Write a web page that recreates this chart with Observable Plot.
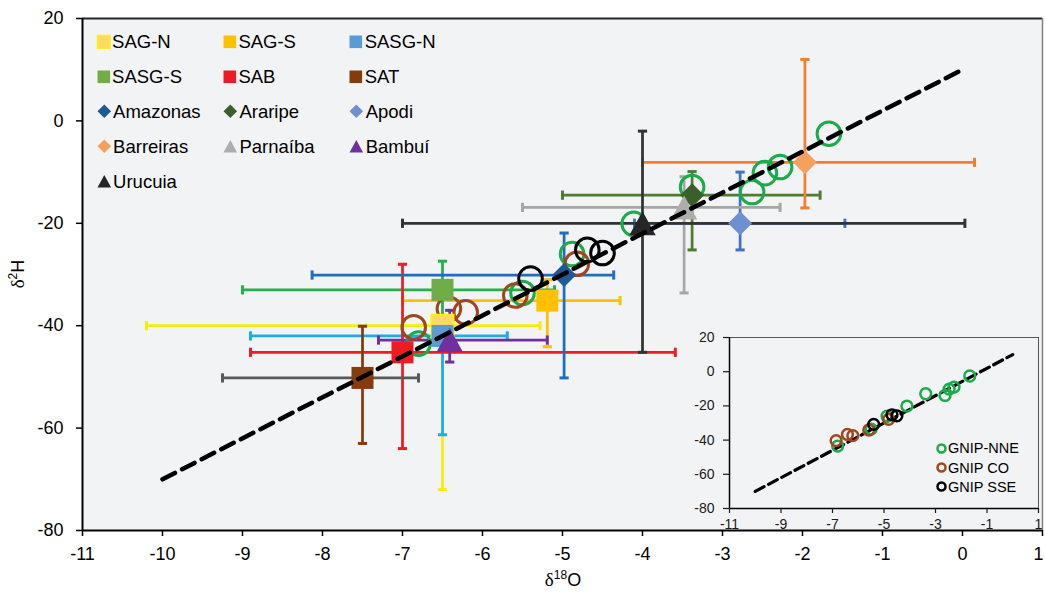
<!DOCTYPE html>
<html><head><meta charset="utf-8">
<script src="https://cdn.jsdelivr.net/npm/d3@7"></script>
<script src="https://cdn.jsdelivr.net/npm/@observablehq/plot@0.6"></script>
<style>
body{margin:0;background:#fff;font-family:"Liberation Sans",Arial,sans-serif;}
#wrap{position:relative;width:1045px;height:593px;overflow:hidden;background:#fff;}
#wrap > svg{position:absolute;}
.leg{position:absolute;display:flex;align-items:center;white-space:nowrap;color:#000;height:24px;}
.leg svg{display:block;flex:none;}
.lab{position:absolute;color:#000;font-size:18px;white-space:nowrap;text-align:center;}
.lab .d{font-family:"Liberation Serif","Times New Roman",serif;font-size:19px;}
.lab sup{font-size:12px;vertical-align:7px;line-height:0;}
</style></head><body><div id="wrap"></div>
<script>
// ---------- data ----------
const aquifers = ["SAG-N","SAG-S","SASG-N","SASG-S","SAB","SAT","Amazonas","Araripe","Apodi","Barreiras","Parnaíba","Bambuí","Urucuia"];
const shapes   = ["square","square","square","square","square","square","diamond","diamond","diamond","diamond","triangle","triangle","triangle"];
const d18O     = [-6.5, -5.19, -6.5, -6.5, -7.0, -7.5, -4.98, -3.38, -2.78, -1.97, -3.48, -6.41, -4.0];
const d2H      = [-40.0, -35.1, -42.0, -33.0, -45.2, -50.2, -30.1, -14.5, -20.0, -8.1, -16.9, -42.8, -20.0];
const d18OLow  = [-10.2, -7.0, -8.9, -9.0, -8.9, -9.25, -8.13, -5.0, -4.1, -4.0, -5.5, -7.3, -7.0];
const d18OHigh = [-5.28, -4.28, -5.69, -5.1, -3.59, -6.8, -4.36, -1.78, -1.47, 0.15, -2.28, -5.19, 0.03];
const d2HLow   = [-72.0, -44.1, -61.3, -38.0, -64.0, -63.0, -50.2, -25.2, -25.2, -17.0, -33.6, -47.1, -45.2];
const d2HHigh  = [-40.0, -31.0, -42.0, -27.4, -28.0, -40.1, -21.9, -9.9, -10.0, 12.0, -10.9, -37.0, -2.0];

const gnipNNE_x = [-1.67, -2.28, -2.47, -2.63, -3.38, -4.11, -4.88, -5.5, -6.8];
const gnipNNE_y = [-2.5, -9.0, -10.2, -13.9, -12.9, -20.1, -26.0, -33.6, -43.5];
const gnipCO_x  = [-6.86, -6.42, -6.21, -5.59, -4.82];
const gnipCO_y  = [-40.3, -36.7, -37.4, -34.1, -27.9];
const gnipSSE_x = [-5.4, -4.69, -4.5];
const gnipSSE_y = [-30.8, -25.2, -25.8];
const gnipNames = ["GNIP-NNE","GNIP CO","GNIP SSE"];

const gmwlX = [-10, 0];
const gmwlY = [-70, 10];

const xDomain = [-11, 1];
const yDomain = [-80, 20];
const xTicks = [-11,-10,-9,-8,-7,-6,-5,-4,-3,-2,-1,0,1];
const yTicks = [-80,-60,-40,-20,0,20];
const insetXTicks = [-11,-9,-7,-5,-3,-1,1];

// ---------- styles ----------
const markerFill   = ["#FFD966","#FFC000","#5B9BD5","#70AD47","#ED1C24","#843C0C","#1F5A96","#3A5F2A","#6F8FD2","#F5A05C","#ADADAD","#7030A0","#262626"];
const markerStroke = ["#FFF200","none","none","none","none","none","none","none","none","none","none","none","none"];
const hColor = ["#F8EC0A","#FFC000","#1BADE8","#22B14C","#ED1C24","#595959","#1F6DC0","#4E7D2E","#4472C4","#F07F2F","#A6A6A6","#7030A0","#333333"];
const vColor = ["#F8EC0A","#FFC000","#1BADE8","#22B14C","#ED1C24","#843C0C","#1F6DC0","#4E7D2E","#4472C4","#F07F2F","#A6A6A6","#7030A0","#333333"];
const gnipColor = ["#1AAB4A","#A0461C","#000000"];
const BG = "#F2F3F5";
const FONT = '"Liberation Sans", Arial, sans-serif';

// ---------- symbols ----------
const rr = s => Math.sqrt(s / Math.PI);
const symbols = {
  square:   {draw(c,s){const r=rr(s); c.moveTo(-r,-r); c.lineTo(r,-r); c.lineTo(r,r); c.lineTo(-r,r); c.closePath();}},
  diamond:  {draw(c,s){const r=rr(s); c.moveTo(0,-r); c.lineTo(r,0); c.lineTo(0,r); c.lineTo(-r,0); c.closePath();}},
  triangle: {draw(c,s){const r=rr(s); c.moveTo(0,-r); c.lineTo(r*1.1,r); c.lineTo(-r*1.1,r); c.closePath();}}
};
const capV = {draw(c,s){const r=rr(s); c.moveTo(0,-r); c.lineTo(0,r);}};
const capH = {draw(c,s){const r=rr(s); c.moveTo(-r,0); c.lineTo(r,0);}};
const markerR = {square: 11, diamond: 12, triangle: 12};

const rows = aquifers.map((name, i) => ({
  name, shape: shapes[i], x: d18O[i], y: d2H[i],
  xLow: d18OLow[i], xHigh: d18OHigh[i], yLow: d2HLow[i], yHigh: d2HHigh[i]
}));
const gnipSets = [[gnipNNE_x, gnipNNE_y], [gnipCO_x, gnipCO_y], [gnipSSE_x, gnipSSE_y]];
const gnip = gnipSets.flatMap(([xs, ys], k) => xs.map((x, j) => ({x, y: ys[j], k})));
const gmwl = gmwlX.map((x, i) => ({x, y: gmwlY[i]}));
const fmt = d => String(d);

// ---------- main plot ----------
const barMarks = rows.flatMap((d, i) => [
  Plot.ruleY([d], {y: "y", x1: "xLow", x2: "xHigh", stroke: hColor[i], strokeWidth: 2.75}),
  Plot.dot([d], {x: "xLow", y: "y", symbol: capV, r: 4.6, stroke: hColor[i], strokeWidth: 3, fill: "none"}),
  Plot.dot([d], {x: "xHigh", y: "y", symbol: capV, r: 4.6, stroke: hColor[i], strokeWidth: 3, fill: "none"}),
  Plot.ruleX([d], {x: "x", y1: "yLow", y2: "yHigh", stroke: vColor[i], strokeWidth: 2.75}),
  Plot.dot([d], {x: "x", y: "yLow", symbol: capH, r: 4.6, stroke: vColor[i], strokeWidth: 3, fill: "none"}),
  Plot.dot([d], {x: "x", y: "yHigh", symbol: capH, r: 4.6, stroke: vColor[i], strokeWidth: 3, fill: "none"})
]);
const markerMarks = rows.map((d, i) =>
  Plot.dot([d], {x: "x", y: "y", symbol: symbols[d.shape], r: markerR[d.shape],
    fill: markerFill[i], stroke: markerStroke[i], strokeWidth: 2})
);
const circleMarks = [0,1,2].map(k =>
  Plot.dot(gnip.filter(d => d.k === k), {x: "x", y: "y", r: 11.8, fill: "none", stroke: gnipColor[k], strokeWidth: 3})
);
const lastTick = xTicks[xTicks.length - 1];

const main = Plot.plot({
  width: 1045, height: 593,
  marginLeft: 82, marginRight: 3, marginTop: 18, marginBottom: 63,
  x: {domain: xDomain},
  y: {domain: yDomain},
  style: {background: "transparent", fontFamily: FONT, fontSize: "18px", color: "#000", overflow: "visible"},
  marks: [
    Plot.frame({fill: BG, stroke: "none"}),
    ...barMarks,
    ...circleMarks,
    ...markerMarks,
    Plot.line(gmwl, {x: "x", y: "y", stroke: "#000", strokeWidth: 4.5, strokeDasharray: "14,8"}),
    Plot.ruleY([yDomain[1]], {stroke: "#262626", strokeWidth: 2}),
    Plot.ruleX([xDomain[1]], {stroke: "#808080", strokeWidth: 1.5}),
    Plot.ruleX([xDomain[0]], {stroke: "#000", strokeWidth: 2}),
    Plot.ruleY([yDomain[0]], {stroke: "#000", strokeWidth: 2}),
    Plot.axisX({ticks: xTicks, tickFormat: t => t === lastTick ? "" : fmt(t), tickSize: 6, tickPadding: 11, strokeWidth: 1.5, label: null}),
    Plot.axisX({ticks: [lastTick], tickFormat: fmt, tickSize: 0, tickPadding: 17, dx: -4, label: null}),
    Plot.axisY({ticks: yTicks, tickFormat: fmt, tickSize: 6, tickPadding: 13, strokeWidth: 1.5, label: null})
  ]
});
main.style.left = "0px"; main.style.top = "0px";

// ---------- inset ----------
const inset = Plot.plot({
  width: 365, height: 215,
  marginLeft: 49, marginRight: 7, marginTop: 17, marginBottom: 27,
  x: {domain: xDomain},
  y: {domain: yDomain},
  style: {background: "transparent", fontFamily: FONT, fontSize: "14px", color: "#1a1a1a", overflow: "visible"},
  marks: [
    Plot.frame({fill: BG, stroke: "#555", strokeWidth: 1}),
    Plot.ruleX([xDomain[0]], {stroke: "#000", strokeWidth: 1.5}),
    Plot.ruleY([yDomain[0]], {stroke: "#000", strokeWidth: 1.5}),
    Plot.axisX({ticks: insetXTicks, tickFormat: fmt, tickSize: 5, tickPadding: 6, strokeWidth: 1.2, label: null}),
    Plot.axisY({ticks: yTicks, tickFormat: fmt, tickSize: 6, tickPadding: 9, strokeWidth: 1.2, label: null}),
    Plot.line(gmwl, {x: "x", y: "y", stroke: "#000", strokeWidth: 3.2, strokeDasharray: "10,5"}),
    ...[0,1,2].map(k => Plot.dot(gnip.filter(d => d.k === k), {x: "x", y: "y", r: 5.4, fill: "none", stroke: gnipColor[k], strokeWidth: 2.5}))
  ]
});
inset.style.left = "680px"; inset.style.top = "320px";

const wrap = document.getElementById("wrap");
wrap.appendChild(main);
wrap.appendChild(inset);

// ---------- legends ----------
function icon(shape, fill, stroke, half) {
  const s = half * 2 + 3, c = s / 2;
  let p;
  if (shape === "square") p = `<rect x="${c-half}" y="${c-half}" width="${2*half}" height="${2*half}"/>`;
  else if (shape === "diamond") p = `<path d="M${c},${c-half}L${c+half},${c}L${c},${c+half}L${c-half},${c}Z"/>`;
  else p = `<path d="M${c},${c-half*0.92}L${c+half},${c+half*0.92}L${c-half},${c+half*0.92}Z"/>`;
  return `<svg width="${s}" height="${s}" style="margin-left:-1.5px"><g fill="${fill}" stroke="${stroke}" stroke-width="1.5">${p}</g></svg>`;
}
aquifers.forEach((name, i) => {
  const col = i % 3, row = Math.floor(i / 3);
  const el = document.createElement("div");
  el.className = "leg";
  el.style.left = (97 + col * 126.3) + "px";
  el.style.top = (41.7 + row * 35 - 12) + "px";
  el.style.fontSize = "18.5px";
  el.innerHTML = icon(shapes[i], markerFill[i], markerStroke[i], shapes[i] === "square" ? 6.3 : 6.8) +
    `<span style="margin-left:1px">${name}</span>`;
  wrap.appendChild(el);
});
gnipNames.forEach((name, k) => {
  const el = document.createElement("div");
  el.className = "leg";
  el.style.left = "935px";
  el.style.top = (448.3 + k * 19.2 - 12) + "px";
  el.style.fontSize = "14.5px";
  el.innerHTML = `<svg width="13" height="13"><circle cx="6.5" cy="6.5" r="4" fill="none" stroke="${gnipColor[k]}" stroke-width="2.5"/></svg><span style="margin-left:0px">${name}</span>`;
  wrap.appendChild(el);
});

// ---------- axis titles ----------
const xl = document.createElement("div");
xl.className = "lab";
xl.style.left = (563 - 50) + "px"; xl.style.top = (580 - 12) + "px";
xl.style.width = "100px"; xl.style.lineHeight = "24px";
xl.innerHTML = `<span class="d">δ</span><sup>18</sup>O`;
wrap.appendChild(xl);
const yl = document.createElement("div");
yl.className = "lab";
yl.style.left = (18 - 50) + "px"; yl.style.top = (274 - 12) + "px";
yl.style.width = "100px"; yl.style.lineHeight = "24px";
yl.style.transform = "rotate(-90deg)";
yl.innerHTML = `<span class="d">δ</span><sup>2</sup>H`;
wrap.appendChild(yl);
</script></body></html>
